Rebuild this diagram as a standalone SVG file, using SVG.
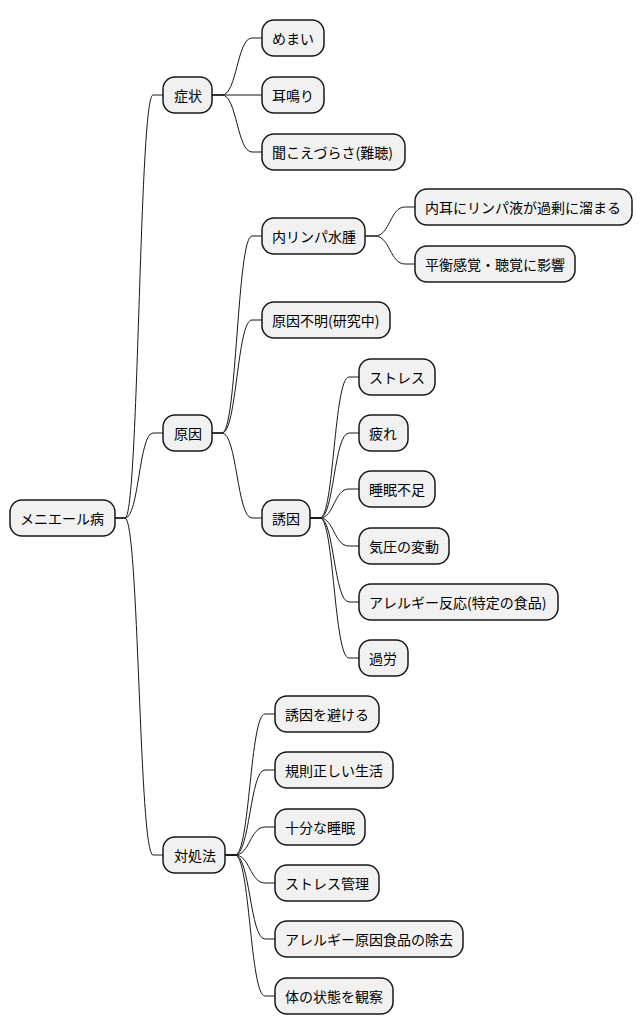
<svg xmlns="http://www.w3.org/2000/svg" width="642" height="1034" viewBox="0 0 642 1034">
<style>
.n rect{fill:#f1f1f1;stroke:#181818;stroke-width:1.5}
.n text{font-family:"Noto Sans CJK JP","Noto Sans",sans-serif;font-size:14px;fill:#000;dominant-baseline:central}
#links path{fill:none;stroke:#181818;stroke-width:1}
</style>
<rect width="642" height="1034" fill="#fff"/>
<g id="links">
<path d="M115 518 L125 518 C139 518 139 95 153 95 L163 95"/>
<path d="M115 518 L125 518 C139 518 139 433 153 433 L163 433"/>
<path d="M115 518 L125 518 C139 518 139 855 153 855 L163 855"/>
<path d="M212 95 L222 95 C237 95 237 38 252 38 L262 38"/>
<path d="M212 95 L262 95"/>
<path d="M212 95 L222 95 C237 95 237 152 252 152 L262 152"/>
<path d="M212 433 L222 433 C237 433 237 236 252 236 L262 236"/>
<path d="M212 433 L222 433 C237 433 237 320 252 320 L262 320"/>
<path d="M212 433 L222 433 C237 433 237 518 252 518 L262 518"/>
<path d="M365 236 L375 236 C390 236 390 207 405 207 L415 207"/>
<path d="M365 236 L375 236 C390 236 390 264 405 264 L415 264"/>
<path d="M310 518 L320 518 C334 518 334 377 349 377 L359 377"/>
<path d="M310 518 L320 518 C334 518 334 433 349 433 L359 433"/>
<path d="M310 518 L320 518 C334 518 334 489 349 489 L359 489"/>
<path d="M310 518 L320 518 C334 518 334 546 349 546 L359 546"/>
<path d="M310 518 L320 518 C334 518 334 602 349 602 L359 602"/>
<path d="M310 518 L320 518 C334 518 334 658 349 658 L359 658"/>
<path d="M225 855 L235 855 C250 855 250 714 265 714 L275 714"/>
<path d="M225 855 L235 855 C250 855 250 770 265 770 L275 770"/>
<path d="M225 855 L235 855 C250 855 250 827 265 827 L275 827"/>
<path d="M225 855 L235 855 C250 855 250 883 265 883 L275 883"/>
<path d="M225 855 L235 855 C250 855 250 939 265 939 L275 939"/>
<path d="M225 855 L235 855 C250 855 250 996 265 996 L275 996"/>
</g>
<g id="root" class="n"><rect x="10" y="500" width="105" height="36" rx="12"/><text x="20" y="518">メニエール病</text></g>
<g id="shojo" class="n"><rect x="163" y="77" width="49" height="36" rx="12"/><text x="174" y="95">症状</text></g>
<g id="s1" class="n"><rect x="262" y="20" width="62" height="36" rx="12"/><text x="272" y="38">めまい</text></g>
<g id="s2" class="n"><rect x="262" y="77" width="62" height="36" rx="12"/><text x="272" y="95">耳鳴り</text></g>
<g id="s3" class="n"><rect x="262" y="134" width="143" height="36" rx="12"/><text x="272" y="152">聞こえづらさ(難聴)</text></g>
<g id="gen" class="n"><rect x="163" y="415" width="49" height="36" rx="12"/><text x="174" y="433">原因</text></g>
<g id="g1" class="n"><rect x="262" y="218" width="103" height="36" rx="12"/><text x="272" y="236">内リンパ水腫</text></g>
<g id="g1a" class="n"><rect x="415" y="189" width="217" height="36" rx="12"/><text x="425" y="207">内耳にリンパ液が過剰に溜まる</text></g>
<g id="g1b" class="n"><rect x="415" y="246" width="160" height="36" rx="12"/><text x="425" y="264">平衡感覚・聴覚に影響</text></g>
<g id="g2" class="n"><rect x="262" y="302" width="128" height="36" rx="12"/><text x="272" y="320">原因不明(研究中)</text></g>
<g id="g3" class="n"><rect x="262" y="500" width="48" height="36" rx="12"/><text x="272" y="518">誘因</text></g>
<g id="y1" class="n"><rect x="359" y="359" width="76" height="36" rx="12"/><text x="369" y="377">ストレス</text></g>
<g id="y2" class="n"><rect x="359" y="415" width="49" height="36" rx="12"/><text x="369" y="433">疲れ</text></g>
<g id="y3" class="n"><rect x="359" y="471" width="76" height="36" rx="12"/><text x="369" y="489">睡眠不足</text></g>
<g id="y4" class="n"><rect x="359" y="528" width="90" height="36" rx="12"/><text x="369" y="546">気圧の変動</text></g>
<g id="y5" class="n"><rect x="359" y="584" width="199" height="36" rx="12"/><text x="369" y="602">アレルギー反応(特定の食品)</text></g>
<g id="y6" class="n"><rect x="359" y="640" width="49" height="36" rx="12"/><text x="369" y="658">過労</text></g>
<g id="tai" class="n"><rect x="163" y="837" width="62" height="36" rx="12"/><text x="174" y="855">対処法</text></g>
<g id="t1" class="n"><rect x="275" y="696" width="104" height="36" rx="12"/><text x="285" y="714">誘因を避ける</text></g>
<g id="t2" class="n"><rect x="275" y="752" width="118" height="36" rx="12"/><text x="285" y="770">規則正しい生活</text></g>
<g id="t3" class="n"><rect x="275" y="809" width="90" height="36" rx="12"/><text x="285" y="827">十分な睡眠</text></g>
<g id="t4" class="n"><rect x="275" y="865" width="104" height="36" rx="12"/><text x="285" y="883">ストレス管理</text></g>
<g id="t5" class="n"><rect x="275" y="921" width="188" height="36" rx="12"/><text x="285" y="939">アレルギー原因食品の除去</text></g>
<g id="t6" class="n"><rect x="275" y="978" width="118" height="36" rx="12"/><text x="285" y="996">体の状態を観察</text></g>
</svg>
